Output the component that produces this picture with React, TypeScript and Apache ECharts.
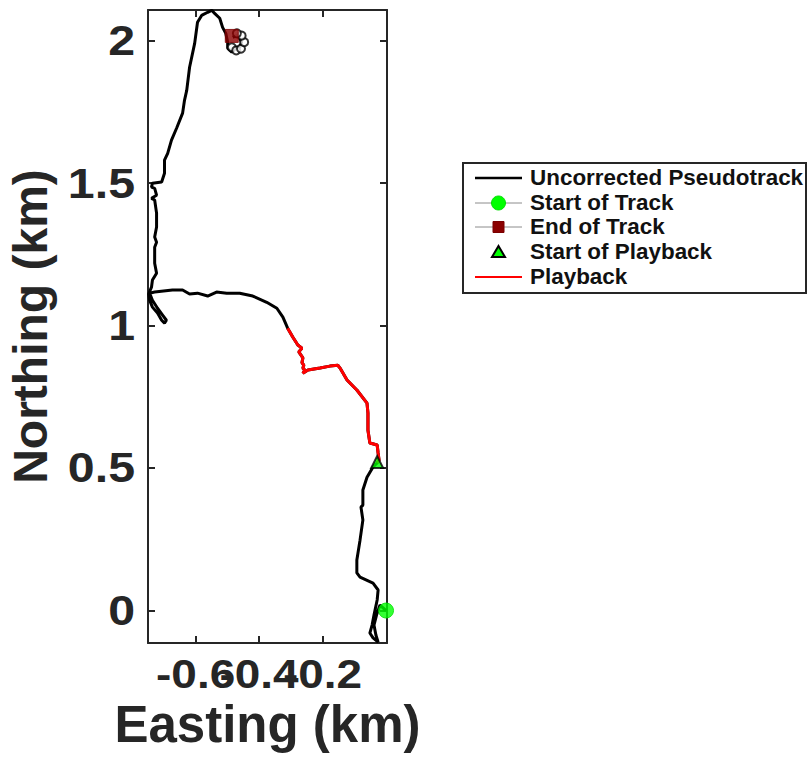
import React, { useEffect, useRef } from "react";
import * as echarts from "echarts";

// Easting / Northing in km
const trackToPlayback: number[][] = [
  [0.0, 0.0], [-0.019, 0.019], [-0.03, -0.016], [-0.038, -0.051], [-0.032, -0.086],
  [-0.025, -0.111], [-0.041, -0.096], [-0.051, -0.079], [-0.044, -0.051], [-0.038, -0.016],
  [-0.028, 0.037], [-0.025, 0.072], [-0.041, 0.096], [-0.082, 0.117], [-0.092, 0.132],
  [-0.092, 0.177], [-0.082, 0.247], [-0.073, 0.318], [-0.079, 0.363], [-0.073, 0.37],
  [-0.073, 0.423], [-0.06, 0.468], [-0.041, 0.504], [-0.028, 0.518],
];

const playbackTrack: number[][] = [
  [-0.028, 0.518], [-0.022, 0.528], [-0.025, 0.553], [-0.028, 0.581], [-0.051, 0.588],
  [-0.057, 0.633], [-0.057, 0.693], [-0.06, 0.728], [-0.092, 0.774], [-0.123, 0.809],
  [-0.145, 0.851], [-0.152, 0.861], [-0.177, 0.858], [-0.208, 0.851], [-0.246, 0.844],
  [-0.262, 0.833], [-0.256, 0.844], [-0.262, 0.851], [-0.259, 0.861], [-0.265, 0.87],
  [-0.262, 0.887], [-0.275, 0.908], [-0.265, 0.921], [-0.278, 0.932], [-0.294, 0.96],
  [-0.31, 0.991],
];

const trackAfterPlayback: number[][] = [
  [-0.31, 0.991], [-0.325, 1.03], [-0.344, 1.061], [-0.376, 1.082], [-0.42, 1.104],
  [-0.461, 1.114], [-0.502, 1.114], [-0.534, 1.118], [-0.562, 1.104], [-0.594, 1.114],
  [-0.619, 1.111], [-0.641, 1.125], [-0.673, 1.125], [-0.729, 1.118], [-0.745, 1.114],
  [-0.736, 1.089], [-0.72, 1.061], [-0.704, 1.037], [-0.692, 1.019], [-0.698, 1.009],
  [-0.707, 1.019], [-0.72, 1.044], [-0.736, 1.065], [-0.745, 1.089], [-0.748, 1.111],
  [-0.739, 1.135], [-0.736, 1.16], [-0.723, 1.184], [-0.729, 1.219], [-0.729, 1.275],
  [-0.723, 1.293], [-0.729, 1.311], [-0.723, 1.346], [-0.723, 1.395], [-0.729, 1.441],
  [-0.739, 1.447], [-0.723, 1.458], [-0.729, 1.482], [-0.739, 1.486], [-0.736, 1.5],
  [-0.707, 1.504], [-0.698, 1.535], [-0.698, 1.581], [-0.688, 1.605], [-0.676, 1.651],
  [-0.66, 1.693], [-0.641, 1.746], [-0.635, 1.791], [-0.628, 1.826], [-0.619, 1.907],
  [-0.603, 1.991], [-0.594, 2.065], [-0.581, 2.089], [-0.562, 2.1], [-0.549, 2.107],
  [-0.54, 2.096], [-0.524, 2.079], [-0.515, 2.047], [-0.505, 2.026], [-0.499, 1.995],
  [-0.499, 1.974], [-0.486, 1.96], [-0.471, 1.977], [-0.461, 1.977], [-0.455, 1.995],
  [-0.467, 2.02], [-0.483, 2.012],
];

const endLoopPoints: number[][] = [
  [-0.486, 1.977], [-0.472, 1.966], [-0.457, 1.972], [-0.447, 1.995], [-0.455, 2.018], [-0.47, 2.026],
];

const startOfTrack: number[][] = [[0.0, 0.0]];
const endOfTrack: number[][] = [[-0.486, 2.017]];
const startOfPlayback: number[][] = [[-0.028, 0.521]];

const xTicks = [-0.6, -0.4, -0.2];
const xTickLabels = ["-0.6", "-0.4", "-0.2"];
const yTicks = [0, 0.5, 1, 1.5, 2];
const yTickLabels = ["0", "0.5", "1", "1.5", "2"];
const xRange = [-0.75, 0.003];
const yRange = [-0.114, 2.108];

const legendNames = [
  "Uncorrected Pseudotrack",
  "Start of Track",
  "End of Track",
  "Start of Playback",
  "Playback",
];

const AX = "#262626";
const FONT = "Liberation Sans, Arial, sans-serif";

export default function App() {
  const ref = useRef<HTMLDivElement>(null);
  useEffect(() => {
    if (!ref.current) return;
    const chart = echarts.init(ref.current, null, { renderer: "svg" });
    const fullTrack = [...trackToPlayback, ...playbackTrack.slice(1), ...trackAfterPlayback.slice(1)];

    const axisCommon = {
      type: "value",
      axisLine: { show: true, onZero: false, lineStyle: { color: AX, width: 2 } },
      splitLine: { show: false },
      axisLabel: { show: false },
    };

    const lx = 463, ly = 163, rowY = [178, 203, 227, 252, 277];
    const legendGraphics: any[] = [
      { type: "rect", shape: { x: lx, y: ly, width: 343, height: 130 }, style: { fill: "#fff", stroke: AX, lineWidth: 2 }, z: 10 },
      { type: "line", shape: { x1: 475, y1: rowY[0], x2: 522, y2: rowY[0] }, style: { stroke: "#000", lineWidth: 2.5 }, z: 11 },
      { type: "line", shape: { x1: 475, y1: rowY[1], x2: 522, y2: rowY[1] }, style: { stroke: "#8c8c8c", lineWidth: 1 }, z: 11 },
      { type: "circle", shape: { cx: 498.5, cy: rowY[1], r: 7 }, style: { fill: "#00ff00", stroke: "#00e000", lineWidth: 1 }, z: 12 },
      { type: "line", shape: { x1: 475, y1: rowY[2], x2: 522, y2: rowY[2] }, style: { stroke: "#8c8c8c", lineWidth: 1 }, z: 11 },
      { type: "rect", shape: { x: 493, y: rowY[2] - 5.5, width: 11, height: 11 }, style: { fill: "#8b0000", stroke: "#7a0000", lineWidth: 1 }, z: 12 },
      { type: "polygon", shape: { points: [[498.5, rowY[3] - 6], [505, rowY[3] + 5], [492, rowY[3] + 5]] }, style: { fill: "#00ff00", stroke: "#000", lineWidth: 2 }, z: 12 },
      { type: "line", shape: { x1: 475, y1: rowY[4], x2: 522, y2: rowY[4] }, style: { stroke: "#ff0000", lineWidth: 2 }, z: 11 },
    ];
    legendNames.forEach((name, i) => {
      legendGraphics.push({
        type: "text",
        x: 530,
        y: rowY[i],
        scaleX: 1.02,
        style: { text: name, fill: "#111", font: `bold 22px ${FONT}`, textVerticalAlign: "middle", verticalAlign: "middle" },
        z: 12,
      });
    });

    const xTickCfg = { show: true, inside: true, length: 7, interval: 0, customValues: xTicks, lineStyle: { color: AX, width: 2 } };
    const yTickCfg = { show: true, inside: true, length: 7, interval: 0, customValues: yTicks, lineStyle: { color: AX, width: 2 } };

    chart.setOption({
      animation: false,
      backgroundColor: "#fff",
      grid: { left: 148, right: 425, top: 10, bottom: 116, containLabel: false, outerBoundsMode: "none" },
      xAxis: [
        {
          ...axisCommon,
          position: "bottom",
          min: xRange[0],
          max: xRange[1],
          axisTick: xTickCfg,
          name: "Easting (km)",
          nameLocation: "middle",
          nameGap: 56,
          nameTextStyle: { fontSize: 51, fontWeight: "bold", fontFamily: FONT, color: AX },
        },
        {
          ...axisCommon,
          position: "top",
          min: xRange[0],
          max: xRange[1],
          axisTick: xTickCfg,
        },
      ],
      yAxis: [
        {
          ...axisCommon,
          position: "left",
          min: yRange[0],
          max: yRange[1],
          axisTick: yTickCfg,
          name: "Northing (km)",
          nameLocation: "middle",
          nameRotate: 90,
          nameGap: 94,
          nameTextStyle: { fontSize: 48, fontWeight: "bold", fontFamily: FONT, color: AX },
        },
        {
          ...axisCommon,
          position: "right",
          min: yRange[0],
          max: yRange[1],
          axisTick: yTickCfg,
        },
      ],
      series: [
        {
          name: legendNames[0],
          type: "line",
          data: fullTrack,
          showSymbol: false,
          symbol: "none",
          lineStyle: { color: "#000", width: 3 },
          z: 2,
        },
        {
          name: "End loop",
          type: "scatter",
          data: endLoopPoints,
          symbol: "emptyCircle",
          symbolSize: 8,
          itemStyle: { color: "#000", borderColor: "#000", borderWidth: 3 },
          z: 3,
        },
        {
          name: legendNames[4],
          type: "line",
          data: playbackTrack,
          showSymbol: false,
          symbol: "none",
          lineStyle: { color: "#ff0000", width: 3 },
          z: 4,
        },
        {
          name: legendNames[1],
          type: "scatter",
          data: startOfTrack,
          symbol: "circle",
          symbolSize: 15,
          itemStyle: { color: "#00ff00", borderColor: "#00e000", borderWidth: 1 },
          z: 5,
        },
        {
          name: legendNames[2],
          type: "scatter",
          data: endOfTrack,
          symbol: "rect",
          symbolSize: 13,
          itemStyle: { color: "#8b0000", borderColor: "#7a0000", borderWidth: 1 },
          z: 5,
        },
        {
          name: legendNames[3],
          type: "scatter",
          data: startOfPlayback,
          symbol: "triangle",
          symbolSize: 12,
          itemStyle: { color: "#00ff00", borderColor: "#000", borderWidth: 2 },
          z: 5,
        },
      ],
      graphic: legendGraphics,
    });

    // tick labels placed through the axis scales (the original figure is horizontally stretched)
    const axisBottom = chart.convertToPixel({ yAxisIndex: 0 }, yRange[0]) as number;
    const axisLeft = chart.convertToPixel({ xAxisIndex: 0 }, xRange[0]) as number;
    const xLabelGraphics = xTicks.map((v, i) => ({
      type: "text",
      x: chart.convertToPixel({ xAxisIndex: 0 }, v) as number,
      y: axisBottom + 10,
      scaleX: 1.12,
      style: {
        text: xTickLabels[i],
        fill: AX,
        font: `bold 41px ${FONT}`,
        align: "center",
        textAlign: "center",
        verticalAlign: "top",
        textVerticalAlign: "top",
      },
      z: 20,
    }));
    const yLabelGraphics = yTicks.map((v, i) => ({
      type: "text",
      x: axisLeft - 13,
      y: chart.convertToPixel({ yAxisIndex: 0 }, v) as number,
      scaleX: 1.15,
      style: {
        text: yTickLabels[i],
        fill: AX,
        font: `bold 42px ${FONT}`,
        align: "right",
        textAlign: "right",
        verticalAlign: "middle",
        textVerticalAlign: "middle",
      },
      z: 20,
    }));
    chart.setOption({ graphic: [...legendGraphics, ...xLabelGraphics, ...yLabelGraphics] });

    return () => chart.dispose();
  }, []);

  return (
    <div
      ref={ref}
      style={{ position: "absolute", left: 0, top: 0, width: 812, height: 759, background: "#fff" }}
    />
  );
}
